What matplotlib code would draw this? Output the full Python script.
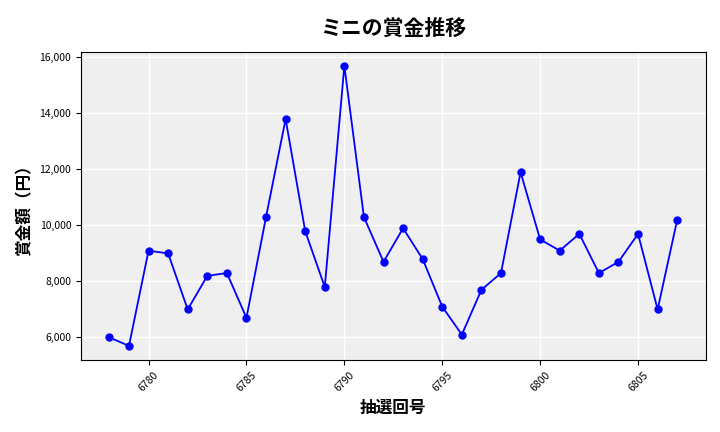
import matplotlib.pyplot as plt
from matplotlib.ticker import FuncFormatter

plt.rcParams['font.family'] = ['Noto Sans CJK JP', 'DejaVu Sans']

draws = list(range(6778, 6808))
prizes = [6000, 5700, 9100, 9000, 7000, 8200, 8300, 6700, 10300, 13800,
          9800, 7800, 15700, 10300, 8700, 9900, 8800, 7100, 6100, 7700,
          8300, 11900, 9500, 9100, 9700, 8300, 8700, 9700, 7000, 10200]

fig, ax = plt.subplots(figsize=(7.2, 4.32), dpi=100)
fig.subplots_adjust(left=0.1125, right=0.98, top=0.88, bottom=0.167)
ax.set_facecolor('#efefef')
ax.grid(True, color='white', linewidth=1)
ax.set_axisbelow(True)

ax.plot(draws, prizes, color='blue', marker='o', markersize=5, linewidth=1.3)

ax.set_title('ミニの賞金推移', fontsize=15, fontweight='bold', pad=12)
ax.set_xlabel('抽選回号', fontsize=12, fontweight='bold')
ax.set_ylabel('賞金額（円）', fontsize=12, fontweight='bold')
ax.set_xticks(range(6780, 6808, 5))
ax.yaxis.set_major_formatter(FuncFormatter(lambda v, p: f'{int(v):,}'))
ax.tick_params(axis='x', labelrotation=45, labelsize=7.5)
ax.tick_params(axis='y', labelsize=7.5)

plt.savefig('out.png', dpi=100)
